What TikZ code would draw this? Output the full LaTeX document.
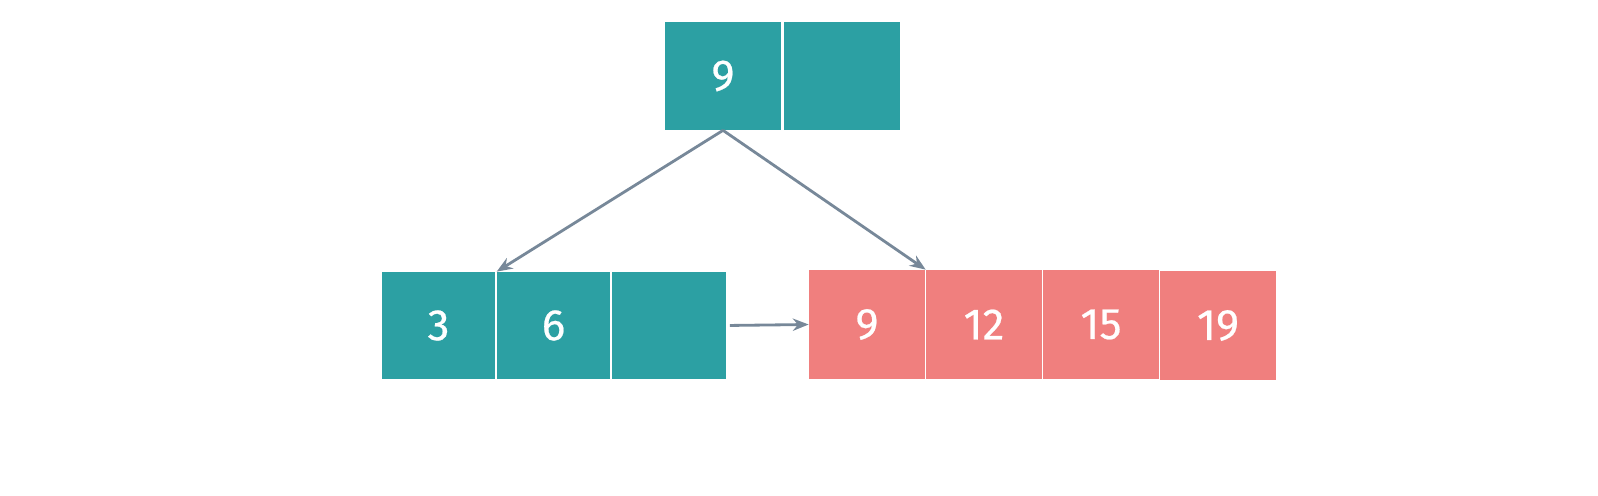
\documentclass[tikz,border=0pt]{standalone}
\usepackage{fontspec}
\setmainfont{Fira Sans}
\newfontfamily\keyfont{Fira Sans}[FakeBold=0.5]
\usepackage{tikz}
\usetikzlibrary{arrows.meta}
\definecolor{teal}{HTML}{2CA0A3}
\definecolor{salmon}{HTML}{F07F7E}
\definecolor{link}{HTML}{778899}

\begin{document}
\begin{tikzpicture}
                      \tikzstyle{inner}=[fill=teal,text=white,inner sep=0pt,minimum width=2.26cm,minimum height=2.14cm,font=\keyfont\fontsize{25}{30}\selectfont]
                      \tikzstyle{leaf}=[fill=salmon,text=white,inner sep=0pt,minimum width=2.32cm,minimum height=2.18cm,font=\keyfont\fontsize{25}{30}\selectfont]
                      \tikzstyle{ptr}=[draw=link,line width=1.6pt,-{Stealth[length=9pt,width=7pt]}]
                      \useasboundingbox (0,0) rectangle (31.96,9.9);
                      \node [inner, minimum width=2.32cm, minimum height=2.16cm] (r9) at (14.46,8.38) {9};
                      \node [inner, minimum width=2.32cm, minimum height=2.16cm] (r0) at (16.84,8.38) {};
                      \node [inner] (l3) at (8.77,3.39) {3};
                      \node [inner] (l6) at (11.07,3.39) {6};
                      \node [inner, minimum width=2.28cm] (le) at (13.38,3.39) {};
                      \node [leaf] (n9) at (17.34,3.41) {9};
                      \node [leaf] (n12) at (19.68,3.41) {12};
                      \node [leaf] (n15) at (22.02,3.41) {15};
                      \node [leaf] (n19) at (24.36,3.39) {19};
                      \draw [ptr] (r9.south) -- (l6.north west);
                      \draw [ptr] (r9.south) -- (n12.north west);
                      \draw [ptr, shorten <=2pt] (le.east) -- (n9.west);
                  \end{tikzpicture}
\end{document}
